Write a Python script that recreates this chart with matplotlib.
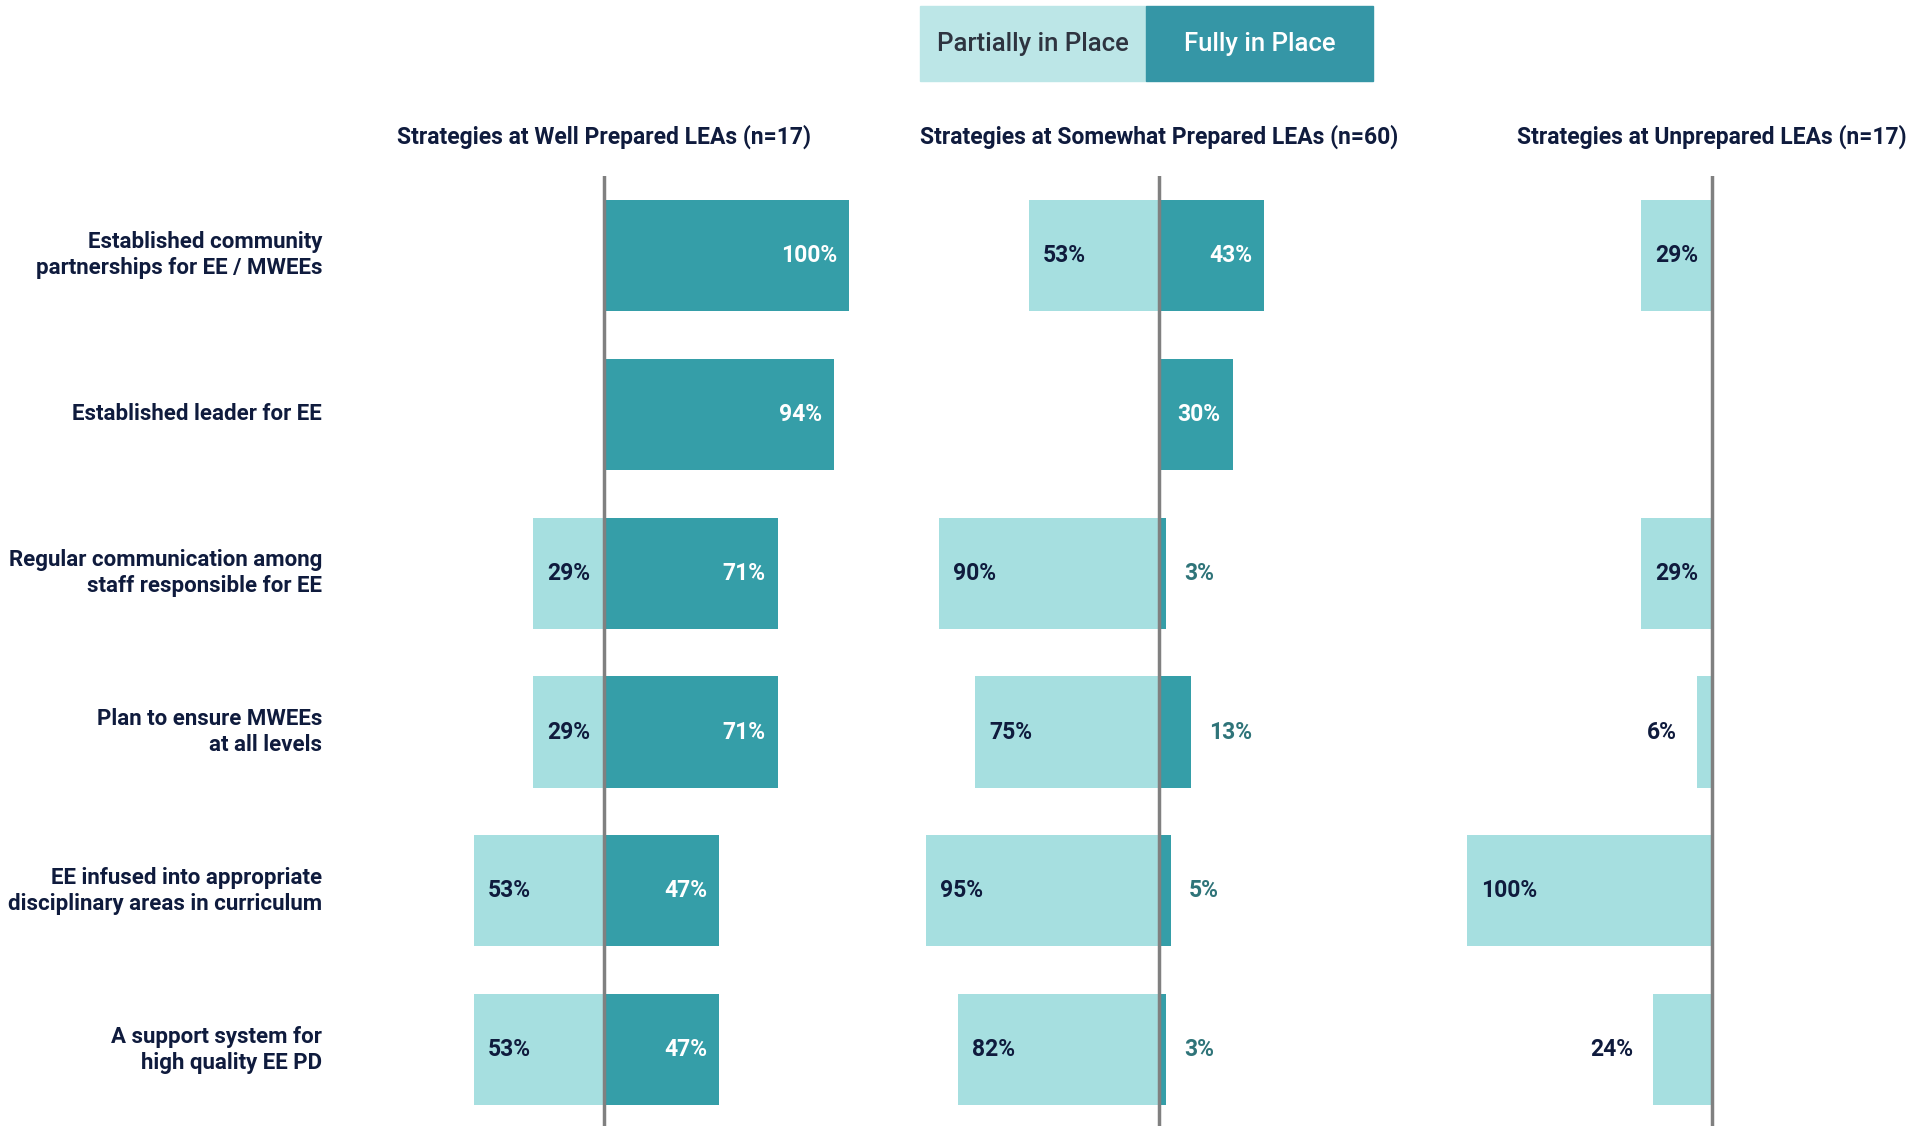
import numpy as np
import matplotlib
matplotlib.use('Agg')
import matplotlib.pyplot as plt
from matplotlib.patches import Rectangle

plt.rcParams['font.family'] = ['Liberation Sans Narrow', 'Roboto', 'DejaVu Sans']

# data
strategies = [
    'Established community\npartnerships for EE / MWEEs',
    'Established leader for EE',
    'Regular communication among\nstaff responsible for EE',
    'Plan to ensure MWEEs\nat all levels',
    'EE infused into appropriate\ndisciplinary areas in curriculum',
    'A support system for\nhigh quality EE PD',
]
panel_titles = [
    'Strategies at Well Prepared LEAs (n=17)',
    'Strategies at Somewhat Prepared LEAs (n=60)',
    'Strategies at Unprepared LEAs (n=17)',
]
well_partial = [0, 0, 29, 29, 53, 53]
well_full = [100, 94, 71, 71, 47, 47]
somewhat_partial = [53, 0, 90, 75, 95, 82]
somewhat_full = [43, 30, 3, 13, 5, 3]
unprep_partial = [29, 0, 29, 6, 100, 24]
unprep_full = [0, 0, 0, 0, 0, 0]

partial_data = [well_partial, somewhat_partial, unprep_partial]
full_data = [well_full, somewhat_full, unprep_full]

c_partial = '#a6dfe0'
c_full = '#359ea8'
c_text = '#0f1b3d'
c_out = '#2f7479'
c_zero = '#808080'

W, H = 1933, 1126
fig = plt.figure(figsize=(W / 100, H / 100), dpi=100)

zeros = [604, 1159, 1712]   # pixel x of zero line per panel
unit = 245                  # pixels for 100%
xlims = [(-1.1, 1.05), (-1.1, 1.05), (-1.1, 0.9)]
top_px, bot_px = 176, 1126
fs = 16.5

y = np.arange(len(strategies))
for k in range(3):
    xmin, xmax = xlims[k]
    left = zeros[k] + xmin * unit
    width = (xmax - xmin) * unit
    ax = fig.add_axes([left / W, 1 - bot_px / H, width / W, (bot_px - top_px) / H])
    p = np.array(partial_data[k]) / 100
    f = np.array(full_data[k]) / 100
    ax.barh(y, -p, height=0.7, color=c_partial, zorder=2)
    ax.barh(y, f, height=0.7, color=c_full, zorder=2)
    ax.axvline(0, color=c_zero, lw=2.5, zorder=3)
    ax.set_xlim(xmin, xmax)
    ax.set_ylim(5.48, -0.5)
    ax.axis('off')

    px = 1.0 / unit  # one pixel in data units
    for i in range(len(y)):
        if p[i] > 0:
            lab = '{}%'.format(partial_data[k][i])
            if p[i] >= 0.27:
                ax.text(-p[i] + 14 * px, y[i], lab, ha='left', va='center',
                        fontsize=fs, fontweight='bold', color=c_text, zorder=4)
            else:
                ax.text(-p[i] - 20 * px, y[i], lab, ha='right', va='center',
                        fontsize=fs, fontweight='bold', color=c_text, zorder=4)
        if f[i] > 0:
            lab = '{}%'.format(full_data[k][i])
            if f[i] >= 0.25:
                ax.text(f[i] - 12 * px, y[i], lab, ha='right', va='center',
                        fontsize=fs, fontweight='bold', color='white', zorder=4)
            else:
                ax.text(f[i] + 18 * px, y[i], lab, ha='left', va='center',
                        fontsize=fs, fontweight='bold', color=c_out, zorder=4)

    fig.text(zeros[k] / W, 1 - 137 / H, panel_titles[k], ha='center', va='center',
             fontsize=fs, fontweight='bold', color=c_text)

# category labels
for i, s in enumerate(strategies):
    yc = 255 + i * 159
    fig.text(322 / W, 1 - yc / H, s, ha='right', va='center', fontsize=16,
             fontweight='bold', color=c_text, linespacing=1.25)

# legend boxes
fig.patches.append(Rectangle((920 / W, 1 - 81 / H), 226 / W, 75 / H,
                             transform=fig.transFigure, color='#bce6e7'))
fig.patches.append(Rectangle((1146 / W, 1 - 81 / H), 227 / W, 75 / H,
                             transform=fig.transFigure, color='#3596a6'))
fig.text(1033 / W, 1 - 44 / H, 'Partially in Place', ha='center', va='center',
         fontsize=18.5, fontweight='medium', color='#2e3440')
fig.text(1260 / W, 1 - 44 / H, 'Fully in Place', ha='center', va='center',
         fontsize=18.5, fontweight='medium', color='white')

fig.savefig('out.png', dpi=100)
